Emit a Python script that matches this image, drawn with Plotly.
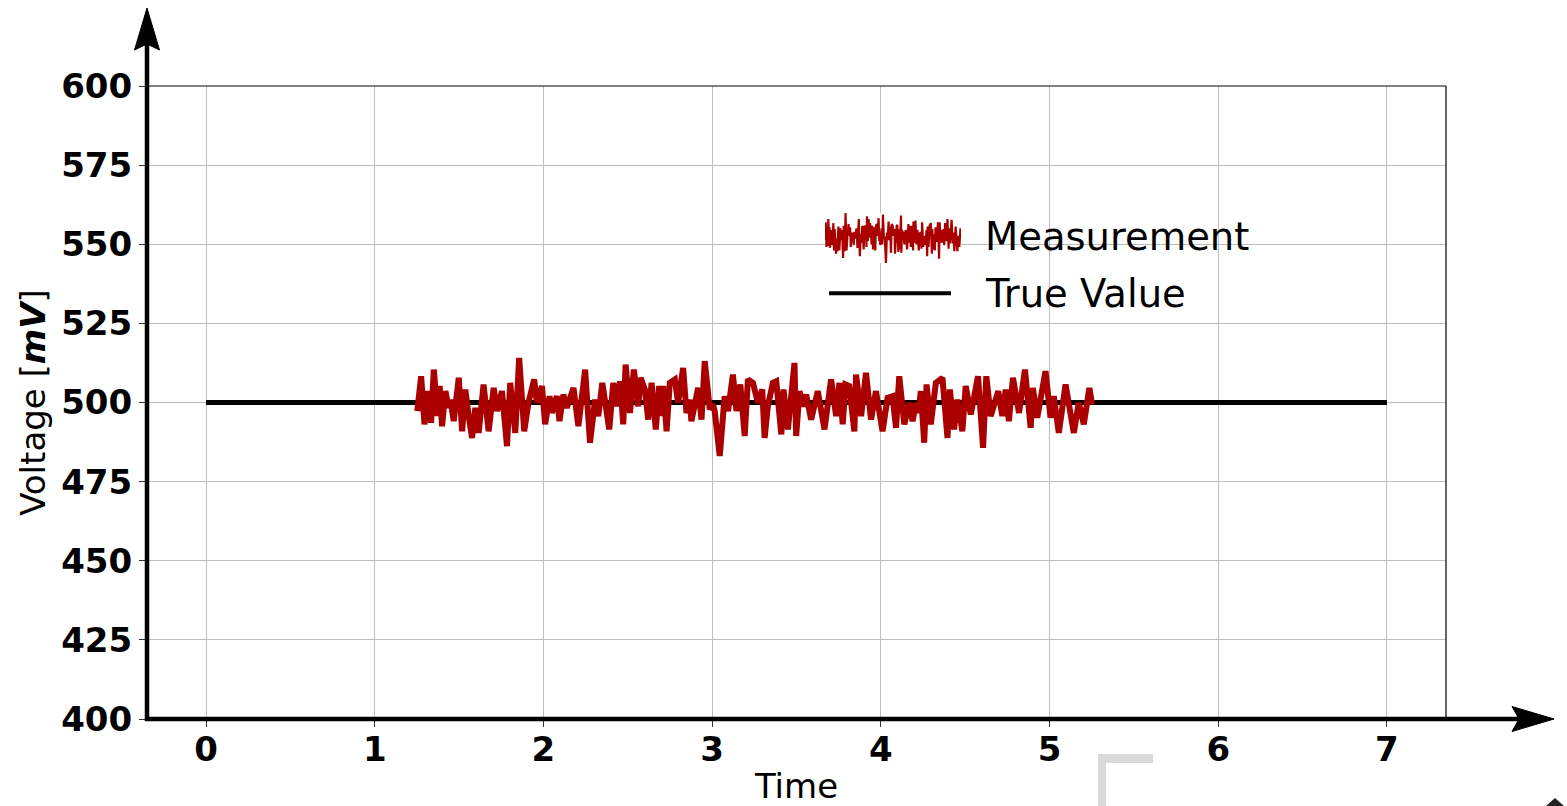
import plotly.graph_objects as go

# ---------------- data ----------------
true_time = [0, 7]
true_mv = [500, 500]

measurement_time = [
    1.252, 1.275, 1.295, 1.314, 1.334, 1.350, 1.373, 1.385, 1.399, 1.419,
    1.438, 1.449, 1.468, 1.498, 1.518, 1.537, 1.557, 1.577, 1.596, 1.616,
    1.645, 1.675, 1.705, 1.725, 1.754, 1.784, 1.803, 1.833, 1.856, 1.886,
    1.911, 1.945, 1.961, 1.991, 2.010, 2.036, 2.050, 2.079, 2.095, 2.118,
    2.138, 2.178, 2.207,
    2.247, 2.276, 2.306, 2.325, 2.349, 2.390, 2.414, 2.434, 2.454, 2.473,
    2.487, 2.513, 2.536, 2.562, 2.576, 2.601, 2.621, 2.641, 2.666, 2.686,
    2.700, 2.710, 2.730, 2.749, 2.779, 2.798, 2.828, 2.848, 2.867, 2.877,
    2.917, 2.937, 2.956, 2.986, 3.005, 3.015, 3.045, 3.074, 3.094, 3.123,
    3.144, 3.167,
    3.193, 3.212, 3.242, 3.271, 3.297, 3.311, 3.330, 3.360, 3.380, 3.410,
    3.423, 3.449, 3.488, 3.498, 3.518, 3.537, 3.557, 3.587, 3.626, 3.666,
    3.705, 3.735, 3.754, 3.774, 3.790, 3.813, 3.843, 3.853, 3.883, 3.912,
    3.942, 3.971, 4.010, 4.040, 4.069, 4.090, 4.109, 4.139, 4.168,
    4.188, 4.208, 4.223, 4.237, 4.257, 4.271, 4.296, 4.326, 4.365, 4.395,
    4.409, 4.434, 4.454, 4.483, 4.503, 4.533, 4.576, 4.606, 4.625, 4.651,
    4.696, 4.720, 4.740, 4.759, 4.783, 4.819, 4.854, 4.888, 4.901, 4.927,
    4.976, 5.006, 5.025, 5.055, 5.095, 5.144, 5.173, 5.203, 5.236, 5.252,
]
measurement_mv = [
    497.3, 508.3, 493.1, 503.6, 493.6, 510.4, 495.7, 505.2, 492.5, 503.6,
    498.3, 500.9, 494.1, 507.8, 490.9, 504.1, 495.7, 488.8, 498.3, 490.4,
    505.7, 490.9, 504.6, 497.3, 503.6, 486.2, 506.2, 490.4, 514.1, 490.9,
    499.9, 507.3, 499.9, 505.2, 493.1, 502.0, 496.7, 502.0, 494.1, 502.5,
    498.3, 504.6, 492.5,
    510.4, 487.3, 500.9, 495.7, 506.2, 491.5, 506.2, 498.8, 506.7, 493.1,
    512.0, 496.7, 510.4, 498.8, 507.8, 504.1, 494.6, 506.2, 491.5, 505.2,
    495.7, 505.2, 490.9, 506.2, 507.3, 499.9, 510.9, 496.7, 500.9, 494.1,
    504.6, 494.6, 513.1, 497.8, 499.4, 497.3, 483.1, 502.0, 497.3, 508.8,
    497.3, 505.7,
    489.4, 507.3, 506.2, 499.9, 504.1, 488.8, 498.8, 506.2, 506.7, 489.9,
    504.1, 491.5, 512.5, 489.4, 503.6, 498.8, 502.5, 494.6, 503.6, 491.5,
    507.3, 495.7, 506.2, 493.1, 505.7, 505.2, 490.9, 508.8, 495.7, 509.4,
    494.6, 503.6, 490.9, 501.5, 502.0, 492.0, 508.3, 493.1, 499.9,
    494.1, 499.9, 496.7, 503.6, 487.3, 505.7, 493.1, 506.2, 507.8, 488.8,
    504.1, 491.5, 500.9, 490.9, 505.2, 496.2, 508.3, 485.7, 508.3, 495.7,
    503.6, 495.7, 504.1, 494.1, 507.8, 496.7, 510.4, 492.0, 504.6, 495.2,
    509.9, 495.2, 502.0, 490.4, 505.7, 490.4, 499.9, 493.1, 504.6, 499.4,
]

x_ticks = [0, 1, 2, 3, 4, 5, 6, 7]
y_ticks = [400, 425, 450, 475, 500, 525, 550, 575, 600]
legend_labels = ["Measurement", "True Value"]

# ---------------- styles ----------------
RED = "#aa0000"
FONT = "DejaVu Sans"
W, H = 1567, 806
ML, MR, MT, MB = 147, 121, 86, 87
PW, PH = W - ML - MR, H - MT - MB


def px_x(p):
    return (p - ML) / PW


def px_y(p):
    return (H - MB - p) / PH


fig = go.Figure()

fig.add_trace(go.Scatter(x=true_time, y=true_mv, mode="lines",
                         line=dict(color="black", width=5),
                         name=legend_labels[1], showlegend=False))
fig.add_trace(go.Scatter(x=measurement_time, y=measurement_mv, mode="lines",
                         line=dict(color=RED, width=6),
                         name=legend_labels[0], showlegend=False))

# legend sample for the measurement (drawn on hidden axes)
fig.add_trace(go.Scatter(x=measurement_time, y=measurement_mv, mode="lines",
                         line=dict(color=RED, width=2.2),
                         xaxis="x2", yaxis="y2", showlegend=False,
                         hoverinfo="skip"))

fig.update_layout(
    width=W, height=H,
    margin=dict(l=ML, r=MR, t=MT, b=MB, autoexpand=False),
    plot_bgcolor="white", paper_bgcolor="white",
    font=dict(family=FONT, color="black"),
    xaxis=dict(
        range=[-0.35, 7.35], tickvals=x_ticks, ticktext=[str(v) for v in x_ticks],
        showgrid=True, gridcolor="#bdbdbd", gridwidth=1, zeroline=False,
        ticks="outside", ticklen=7, tickwidth=1, tickcolor="#333333",
        tickfont=dict(family=FONT, size=34, color="black", weight="bold"),
        ticklabelstandoff=-7, automargin=False,
        title=dict(text="Time", font=dict(family=FONT, size=34, color="black"),
                   standoff=13),
        showline=False,
    ),
    yaxis=dict(
        range=[400, 600], tickvals=y_ticks, ticktext=[str(v) for v in y_ticks],
        showgrid=True, gridcolor="#bdbdbd", gridwidth=1, zeroline=False,
        ticks="outside", ticklen=7, tickwidth=1, tickcolor="#333333",
        tickfont=dict(family=FONT, size=34, color="black", weight="bold"),
        ticklabelstandoff=0, automargin=False,
        title=dict(text="Voltage [<b><i>mV</i></b>]",
                   font=dict(family=FONT, size=34, color="black"), standoff=5),
        showline=False,
    ),
    xaxis2=dict(domain=[px_x(825), px_x(961)], anchor="y2", range=[1.252, 5.252],
                visible=False, fixedrange=True),
    yaxis2=dict(domain=[px_y(263), px_y(213)], anchor="x2", range=[483.1, 514.1],
                visible=False, fixedrange=True),
    showlegend=False,
)

shapes = []
# frame (thin top and right)
shapes.append(dict(type="line", xref="paper", yref="paper", x0=0, x1=1, y0=1, y1=1,
                   line=dict(color="black", width=1.2)))
shapes.append(dict(type="line", xref="paper", yref="paper", x0=1, x1=1, y0=0, y1=1,
                   line=dict(color="black", width=1.2)))
# thick spines with arrow heads
shapes.append(dict(type="line", xref="paper", yref="paper",
                   x0=0, x1=0, y0=px_y(721), y1=px_y(44),
                   line=dict(color="black", width=4.5)))
shapes.append(dict(type="line", xref="paper", yref="paper",
                   x0=px_x(145), x1=px_x(1521), y0=0, y1=0,
                   line=dict(color="black", width=4.5)))
# arrow head up
shapes.append(dict(type="path", xref="paper", yref="paper",
                   path=(f"M {px_x(147)},{px_y(8)} L {px_x(134.5)},{px_y(50)} "
                         f"L {px_x(147)},{px_y(44)} L {px_x(159.5)},{px_y(50)} Z"),
                   fillcolor="black", line=dict(color="black", width=1)))
# arrow head right
shapes.append(dict(type="path", xref="paper", yref="paper",
                   path=(f"M {px_x(1554)},{px_y(719)} L {px_x(1512)},{px_y(706.5)} "
                         f"L {px_x(1519)},{px_y(719)} L {px_x(1512)},{px_y(731.5)} Z"),
                   fillcolor="black", line=dict(color="black", width=1)))
# legend line for True Value
shapes.append(dict(type="line", xref="paper", yref="paper",
                   x0=px_x(829), x1=px_x(951), y0=px_y(293.3), y1=px_y(293.3),
                   line=dict(color="black", width=4)))
# grey corner artefact at the bottom
shapes.append(dict(type="rect", xref="paper", yref="paper",
                   x0=px_x(1098), x1=px_x(1153), y0=px_y(754), y1=px_y(763),
                   fillcolor="#d9d9d9", line=dict(width=0)))
shapes.append(dict(type="rect", xref="paper", yref="paper",
                   x0=px_x(1098), x1=px_x(1106), y0=px_y(754), y1=px_y(807),
                   fillcolor="#d9d9d9", line=dict(width=0)))
# tiny dark triangle at the bottom-right edge
shapes.append(dict(type="path", xref="paper", yref="paper",
                   path=(f"M {px_x(1555)},{px_y(798)} L {px_x(1546)},{px_y(806)} "
                         f"L {px_x(1564)},{px_y(806)} Z"),
                   fillcolor="#222222", line=dict(width=0)))
fig.update_layout(shapes=shapes)

annotations = [
    dict(text=legend_labels[0], xref="paper", yref="paper", x=px_x(983), y=px_y(236),
         xanchor="left", yanchor="middle", showarrow=False,
         font=dict(family=FONT, size=38.5, color="black")),
    dict(text=legend_labels[1], xref="paper", yref="paper", x=px_x(983), y=px_y(293.5),
         xanchor="left", yanchor="middle", showarrow=False,
         font=dict(family=FONT, size=38.5, color="black")),
]
fig.update_layout(annotations=annotations)

fig.write_html("out.html", config={"displayModeBar": False},
               post_script="document.body.style.margin='0';document.body.style.overflow='hidden';")
